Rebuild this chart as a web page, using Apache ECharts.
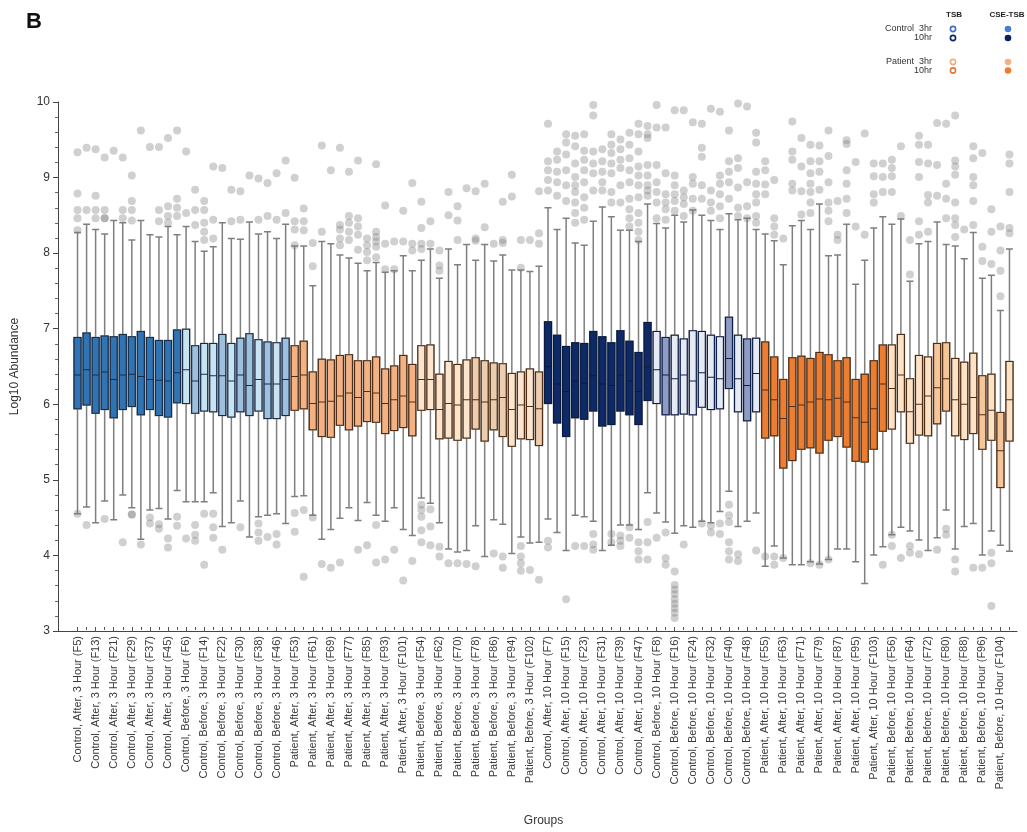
<!DOCTYPE html>
<html><head><meta charset="utf-8">
<script src="https://cdn.jsdelivr.net/npm/echarts@6/dist/echarts.min.js"></script>
<style>html,body{margin:0;padding:0;background:#fff}#c{width:1027px;height:832px}</style>
</head><body><div id="c"></div>
<script>
// ---- tick labels shown on the x axis (every other box is labelled) ----
const groupLabels = [
  "Control, After, 3 Hour (F5)","Control, After, 3 Hour (F13)","Control, After, 3 Hour (F21)","Control, After, 3 Hour (F29)","Control, After, 3 Hour (F37)","Control, After, 3 Hour (F45)",
  "Control, Before, 3 Hour (F6)","Control, Before, 3 Hour (F14)","Control, Before, 3 Hour (F22)","Control, Before, 3 Hour (F30)","Control, Before, 3 Hour (F38)","Control, Before, 3 Hour (F46)",
  "Patient, After, 3 Hour (F53)","Patient, After, 3 Hour (F61)","Patient, After, 3 Hour (F69)","Patient, After, 3 Hour (F77)","Patient, After, 3 Hour (F85)","Patient, After, 3 Hour (F93)","Patient, After, 3 Hour (F101)",
  "Patient, Before, 3 Hour (F54)","Patient, Before, 3 Hour (F62)","Patient, Before, 3 Hour (F70)","Patient, Before, 3 Hour (F78)","Patient, Before, 3 Hour (F86)","Patient, Before, 3 Hour (F94)","Patient, Before, 3 Hour (F102)",
  "Control, After, 10 Hour (F7)","Control, After, 10 Hour (F15)","Control, After, 10 Hour (F23)","Control, After, 10 Hour (F31)","Control, After, 10 Hour (F39)","Control, After, 10 Hour (F47)",
  "Control, Before, 10 Hour (F8)","Control, Before, 10 Hour (F16)","Control, Before, 10 Hour (F24)","Control, Before, 10 Hour (F32)","Control, Before, 10 Hour (F40)","Control, Before, 10 Hour (F48)",
  "Patient, After, 10 Hour (F55)","Patient, After, 10 Hour (F63)","Patient, After, 10 Hour (F71)","Patient, After, 10 Hour (F79)","Patient, After, 10 Hour (F87)","Patient, After, 10 Hour (F95)","Patient, After, 10 Hour (F103)",
  "Patient, Before, 10 Hour (F56)","Patient, Before, 10 Hour (F64)","Patient, Before, 10 Hour (F72)","Patient, Before, 10 Hour (F80)","Patient, Before, 10 Hour (F88)","Patient, Before, 10 Hour (F96)","Patient, Before, 10 Hour (F104)"
];
// each labelled box is followed by an unlabelled companion box
const categories = [];
groupLabels.forEach(function (l) {
  categories.push(l);
  categories.push(l.replace(/\(F(\d+)\)/, function (m, n) { return '(F' + (Number(n) - 4) + ')'; }));
});

const yTicks = [3, 4, 5, 6, 7, 8, 9, 10];

// ---- five-number summaries (Log10 Abundance), one value per box ----
const whiskerLow = [
  4.51,4.60,4.39,4.68,4.43,4.76,4.59,4.17,4.56,4.58,4.44,4.82,
  4.67,4.67,4.67,4.79,4.34,4.39,4.68,4.20,4.47,4.49,4.51,4.38,
  4.74,4.75,4.49,4.17,4.30,4.45,4.59,4.42,4.66,4.49,4.41,4.59,4.30,4.22,
  4.72,4.65,4.39,4.04,4.00,4.02,4.35,3.94,4.43,4.37,3.98,4.20,4.12,4.13,
  4.44,4.26,4.02,4.49,4.47,4.41,4.02,4.09,4.36,4.36,4.30,4.79,
  4.52,4.40,4.25,4.35,4.33,4.41,4.39,4.54,4.81,4.34,4.41,4.52,
  3.81,4.08,3.92,3.83,3.83,3.87,3.84,3.90,4.04,4.04,3.87,3.58,3.96,4.07,
  4.23,4.33,4.28,4.16,4.02,4.19,4.56,4.04,4.34,4.38,3.96,4.28,4.09,4.01
];
const q1 = [
  5.91,5.96,5.85,5.90,5.79,5.90,5.94,5.83,5.90,5.82,5.80,5.99,
  5.98,5.85,5.88,5.87,5.82,5.80,5.87,5.82,5.88,5.78,5.78,5.82,
  5.89,5.91,5.63,5.54,5.53,5.69,5.63,5.68,5.74,5.73,5.58,5.62,5.66,5.55,
  5.89,5.90,5.51,5.52,5.49,5.52,5.64,5.48,5.63,5.54,5.41,5.51,5.50,5.42,
  5.98,5.72,5.54,5.79,5.77,5.88,5.68,5.70,5.88,5.83,5.70,6.02,
  5.98,5.83,5.83,5.84,5.83,5.93,5.90,5.91,6.18,5.87,5.75,5.87,
  5.52,5.55,5.12,5.22,5.37,5.39,5.32,5.49,5.54,5.40,5.21,5.20,5.37,5.61,
  5.64,5.87,5.45,5.56,5.55,5.71,5.88,5.55,5.50,5.58,5.37,5.49,4.86,5.48
];
const median = [
  6.36,6.43,6.36,6.40,6.30,6.36,6.37,6.34,6.30,6.29,6.28,6.39,
  6.43,6.28,6.37,6.35,6.35,6.28,6.36,6.22,6.30,6.24,6.24,6.30,
  6.34,6.36,5.98,6.00,6.01,6.08,6.12,6.06,6.14,6.12,5.98,6.03,6.08,6.00,
  6.30,6.30,5.90,5.98,5.96,6.03,6.03,6.00,6.03,6.06,5.90,5.96,5.94,5.91,
  6.47,6.24,6.14,6.28,6.25,6.35,6.24,6.22,6.36,6.28,6.14,6.47,
  6.43,6.36,6.31,6.36,6.28,6.39,6.33,6.31,6.58,6.31,6.22,6.38,
  6.16,6.03,5.78,5.94,5.96,6.00,6.04,6.03,6.05,6.00,5.79,5.73,5.91,6.24,
  6.18,6.36,5.87,5.97,6.08,6.19,6.31,6.03,5.97,6.06,5.83,5.89,5.35,6.03
];
const q3 = [
  6.86,6.92,6.86,6.88,6.87,6.90,6.87,6.94,6.86,6.82,6.82,6.96,
  6.97,6.75,6.78,6.78,6.90,6.78,6.85,6.91,6.83,6.80,6.79,6.85,
  6.75,6.81,6.40,6.57,6.56,6.62,6.63,6.55,6.55,6.60,6.44,6.48,6.62,6.50,
  6.75,6.76,6.37,6.54,6.50,6.56,6.59,6.55,6.52,6.51,6.38,6.40,6.44,6.40,
  7.07,6.89,6.74,6.79,6.78,6.94,6.87,6.79,6.95,6.81,6.66,7.06,
  6.94,6.86,6.89,6.84,6.95,6.94,6.89,6.87,7.13,6.89,6.84,6.85,
  6.80,6.60,6.30,6.59,6.61,6.58,6.66,6.63,6.55,6.59,6.30,6.37,6.55,6.76,
  6.76,6.90,6.31,6.62,6.60,6.78,6.79,6.58,6.53,6.65,6.35,6.37,5.86,6.54
];
const whiskerHigh = [
  8.26,8.37,8.30,8.24,8.42,8.39,8.16,8.42,8.23,8.20,8.34,8.23,
  8.34,8.14,8.01,8.07,8.39,8.18,8.17,8.40,8.24,8.27,8.18,8.37,
  8.08,8.08,7.55,8.14,8.11,7.96,7.92,7.85,7.75,7.86,7.73,7.75,7.95,7.75,
  7.89,8.04,7.65,8.04,7.83,8.10,7.89,8.10,7.88,7.96,7.76,7.76,7.74,7.81,
  8.59,8.30,8.45,8.12,8.09,8.41,8.60,8.47,8.29,8.29,8.14,8.64,
  8.38,8.32,8.49,8.40,8.56,8.49,8.42,8.30,8.51,8.43,8.45,8.30,
  8.24,8.15,7.83,8.35,8.42,8.30,8.64,7.95,7.96,8.37,7.57,7.89,8.32,8.47,
  8.37,8.44,7.61,8.11,8.14,8.40,8.10,8.08,7.91,8.26,7.65,7.69,7.22,8.04
];
// ---- outliers per box ----
const outliers = [
  [9.33,8.78,8.56,8.45,8.29,4.51],[9.39,8.56,4.36],[9.37,8.75,8.56,8.45],[9.26,8.56,8.45,8.45,4.44],[9.35],[9.26,8.56,8.45,4.13],
  [9.02,8.68,8.56,8.42,4.50,4.50],[9.62,4.10],[9.40,4.46,4.38],[9.40,8.41,8.56,4.37,4.31],[9.52,8.61,8.48,8.39,4.18,4.06],[9.62,8.71,8.59,8.48,4.47,4.35],
  [9.34,8.52,4.18],[8.83,8.56,8.36,4.36,4.23,4.15],[8.68,8.56,8.39,8.27,8.16,4.51,3.83],[9.14,8.43,8.18,4.51,4.33,4.19],[9.12,4.03],[8.83,8.41],
  [8.81,8.43,4.33],[9.02],[8.98,8.43,4.38,4.26,4.15],[8.92,8.48,4.20],[9.05,8.43,4.24,4.10],[9.22,8.52],
  [8.99,8.41,8.30,8.09,4.52,4.27],[8.58,8.41,8.29,4.56,3.67],[8.12,7.81,4.46],[9.42,8.27,3.84],[9.09,3.79],[9.39,8.36,8.30,8.18,8.09,3.86],
  [9.07,8.48,8.39,8.27,8.16],[9.22,8.45,8.34,8.23,8.03,4.03],[8.18,8.09,8.00,7.89,4.09],[9.17,8.27,8.20,8.14,8.07,7.93,4.36,3.86],[8.62,8.11,7.77,3.90],[8.14,7.77,4.03],
  [8.55,8.14,3.62],[8.92,8.11,8.02,3.88],
  [8.67,8.32,8.11,8.04,4.63,4.56,4.47,4.29,4.13],[8.41,8.11,4.57,4.34,4.09],[8.02,7.82,7.75,4.07,3.94],[8.80,8.49,3.85],[8.61,8.42,8.16,3.85],[8.85,3.84],
  [8.81,8.18,8.15,3.81],[8.91,8.33],[8.11,3.98],[8.67,8.16,8.12,3.94,3.79],[9.03,8.74],[8.16,7.79,4.08,3.94,3.85,3.75],[8.16,3.76],[8.81,8.25,8.11,3.63],
  [9.71,9.21,9.09,8.96,8.82,4.15,4.06],[9.34,9.23,9.07,8.93,8.75],[9.57,9.46,9.30,9.09,8.89,8.68,3.37],[9.55,9.41,9.18,9.00,8.89,8.80,8.66,8.52,8.39,4.08],
  [9.57,9.35,9.23,9.09,8.93,8.73,8.59,8.43,4.08],[9.96,9.82,9.34,9.18,9.05,8.82,4.24,4.10,4.03],[9.37,9.21,9.07,8.93,8.82],[9.57,9.43,9.32,9.18,9.05,8.80,8.66,4.24,4.13],
  [9.50,9.37,9.23,9.12,8.89,8.66,4.22,4.15,4.08],[9.59,9.43,9.25,9.09,8.93,8.71,8.57,8.45,8.34,4.33,4.19],
  [9.71,9.57,9.34,9.14,9.02,8.89,8.73,8.52,8.39,8.27,8.16,4.13,4.01,3.90],[9.68,9.57,9.52,9.16,9.02,8.89,8.82,8.75,4.40,4.13,3.90],
  [9.96,9.66,9.16,8.93,8.80,8.66,8.45,4.19],[9.66,9.05,8.77,8.66,8.57,8.43,4.26,3.92,3.83],
  [9.89,9.02,8.89,8.77,8.68,8.55,3.74,3.56,3.50,3.44,3.37,3.31,3.25,3.19,3.12],[9.89,8.82,8.73,8.64,8.48,4.10],[9.73,9.00,8.91,8.71,8.55],
  [9.71,9.39,9.27,8.89,8.71,4.38],[9.91,8.82,8.66,8.55,4.35,4.26],[9.87,9.02,8.91,8.77,8.61,8.45,4.38,4.24],[9.62,9.21,9.07,8.93,8.71,4.63,4.49,4.40,4.13,4.01,3.90],
  [9.98,9.25,9.12,8.86,8.59,8.48,3.97,3.88],[9.94,8.93,8.61,8.45],[9.59,9.46,9.07,8.91,8.77,8.66,8.48,8.39,4.02],
  [9.21,9.09,8.90,8.77,3.94],[8.96,8.45,8.34,8.23,3.94,3.83],[8.18,3.92],[9.74,9.34,9.23,8.91,8.82],[9.52,9.14,8.81,8.50],[9.43,9.21,9.05,8.91,8.80,8.66,8.52,3.85],
  [9.42,9.21,9.07,8.83,3.83],[9.62,9.28,8.93,8.66,8.55,8.41,3.90],[8.68,8.23,8.16],[9.49,9.44,9.09,8.91,8.71,8.52],[9.20,8.34],[9.58,8.23],[9.18,9.01,8.77,8.66],[9.18,9.00,8.80,3.83],
  [9.23,9.12,9.01,8.80,4.23,4.08],[9.41,8.48,3.92],[8.16,7.70,4.08,3.99],[9.55,9.43,9.20,9.00,8.41,8.23,3.97],[9.43,9.18,8.76,8.66,8.27],[9.72,9.16,8.75,4.03],
  [9.71,8.91,8.71,8.45,4.31,4.23],[9.82,9.22,9.14,9.03,8.66,8.45,8.36,8.20,3.90,3.74],[8.30],[9.41,9.25,9.00,8.89,8.68,8.36,3.79],[9.32,8.07,7.88,3.79],
  [8.57,8.27,7.84,3.99,3.85,3.28],[8.34,8.02,7.75,7.41],[9.30,9.18,8.80,8.32,8.25]
];

// ---- styling (kept apart from the data) ----
const toneCodes =
  'aaaaaaaaaaaa' + 'bcbbcbccbcbc' + 'dddddddddddddd' + 'eeeeeeffffeeef' +
  'gggggggggggg' + 'hihhhhhhihih' + 'jjjjjjjjjjjjjj' + 'kkkkkllkkklklk';
const toneFill = {
  a: '#2f74b5', b: '#c6e4f3', c: '#9cc0dd', d: '#f4b183', e: '#fde5cd', f: '#eccdae',
  g: '#0e2a66', h: '#e6eaf4', i: '#8e9cc3', j: '#ed7d31', k: '#fde2c5', l: '#f6c699'
};
const toneBorder = {
  a: '#1b2c47', b: '#1b2c47', c: '#1b2c47', d: '#4d2e17', e: '#4d2e17', f: '#4d2e17',
  g: '#0a1a3f', h: '#0e1f4a', i: '#0e1f4a', j: '#4d2e17', k: '#4d2e17', l: '#4d2e17'
};

const whiskerData = categories.map(function (c, i) {
  return [whiskerLow[i], q1[i], median[i], q3[i], whiskerHigh[i]];
});
const boxData = categories.map(function (c, i) {
  const t = toneCodes[i];
  return {
    value: [q1[i], q1[i], median[i], q3[i], q3[i]],
    itemStyle: { color: toneFill[t], borderColor: toneBorder[t] }
  };
});
const outlierData = [];
outliers.forEach(function (list, i) { list.forEach(function (v) { outlierData.push([i, v]); }); });

const FONT = 'Liberation Sans, Arial, sans-serif';
const chart = echarts.init(document.getElementById('c'), null, { renderer: 'canvas' });

const legendRows = [
  { label: 'Control  3hr', y: 29, tsb: '#3e6fc2', cse: '#4a7fd0' },
  { label: '10hr', y: 38, tsb: '#0d2a5e', cse: '#0a1f5c' },
  { label: 'Patient  3hr', y: 62, tsb: '#f2ad7e', cse: '#f4b183' },
  { label: '10hr', y: 70.5, tsb: '#e07a3a', cse: '#ed7d31' }
];
const legendGraphics = [
  { type: 'text', x: 954, y: 15, style: { text: 'TSB', font: 'bold 8px ' + FONT, fill: '#222', align: 'center', verticalAlign: 'middle', textAlign: 'center', textVerticalAlign: 'middle' } },
  { type: 'text', x: 1007, y: 15, style: { text: 'CSE-TSB', font: 'bold 8px ' + FONT, fill: '#222', align: 'center', verticalAlign: 'middle', textAlign: 'center', textVerticalAlign: 'middle' } }
];
legendRows.forEach(function (r) {
  legendGraphics.push({ type: 'text', x: 932, y: r.y, style: { text: r.label, font: '9px ' + FONT, fill: '#333', align: 'right', verticalAlign: 'middle', textAlign: 'right', textVerticalAlign: 'middle' } });
  legendGraphics.push({ type: 'circle', shape: { cx: 953, cy: r.y, r: 2.6 }, style: { fill: '#fff', stroke: r.tsb, lineWidth: 1.6 } });
  legendGraphics.push({ type: 'circle', shape: { cx: 1008, cy: r.y, r: 3.3 }, style: { fill: r.cse } });
});

chart.setOption({
  animation: false,
  backgroundColor: '#ffffff',
  title: { text: 'B', left: 21, top: 6, textStyle: { fontFamily: FONT, fontSize: 22, fontWeight: 'bold', color: '#111' } },
  graphic: legendGraphics,
  grid: [
    { left: 73, right: 13, top: 102, bottom: 201, containLabel: false },
    { left: 58, right: 10, top: 102, bottom: 201, containLabel: false }
  ],
  xAxis: [
    {
      type: 'category', gridIndex: 0, position: 'bottom', data: categories, boundaryGap: true,
      name: 'Groups', nameLocation: 'middle', nameGap: 188,
      nameTextStyle: { fontFamily: FONT, fontSize: 12, color: '#333' },
      axisLine: { show: false },
      axisTick: { show: true, interval: 0, alignWithLabel: true, length: 3, lineStyle: { color: '#555' } },
      axisLabel: { interval: 1, rotate: 90, margin: 9, fontFamily: FONT, fontSize: 11, color: '#3a3a3a' },
      splitLine: { show: false }
    },
    {
      type: 'category', gridIndex: 0, position: 'bottom', data: categories, boundaryGap: true,
      axisLine: { show: false },
      axisTick: { show: true, interval: 1, alignWithLabel: true, length: 5, lineStyle: { color: '#555' } },
      axisLabel: { show: false }, splitLine: { show: false }
    },
    {
      type: 'value', gridIndex: 1, position: 'bottom', min: 0, max: 1,
      axisLine: { show: true, lineStyle: { color: '#444', width: 1 } },
      axisTick: { show: false }, axisLabel: { show: false }, splitLine: { show: false }
    }
  ],
  yAxis: [
    { type: 'value', gridIndex: 0, min: 3, max: 10, interval: 1, show: false },
    {
      type: 'value', gridIndex: 1, position: 'left', min: 3, max: 10, interval: 1,
      name: 'Log10 Abundance', nameLocation: 'middle', nameGap: 37,
      nameTextStyle: { fontFamily: FONT, fontSize: 12, color: '#333' },
      axisLine: { show: true, lineStyle: { color: '#444', width: 1 } },
      axisTick: { show: true, length: 5, lineStyle: { color: '#444' } },
      minorTick: { show: true, splitNumber: 5, length: 3, lineStyle: { color: '#666' } },
      axisLabel: { fontFamily: FONT, fontSize: 12, color: '#333', margin: 8,
        formatter: function (v) { return yTicks.indexOf(v) >= 0 ? String(v) : ''; } },
      splitLine: { show: false }
    }
  ],
  series: [
    {
      name: 'whiskers', type: 'boxplot', xAxisIndex: 0, yAxisIndex: 0,
      boxWidth: [7, 7], data: whiskerData, z: 2,
      itemStyle: { color: '#ffffff', borderColor: '#7f7f7f', borderWidth: 1.5 },
      emphasis: { disabled: true }
    },
    {
      name: 'boxes', type: 'boxplot', xAxisIndex: 1, yAxisIndex: 0,
      boxWidth: [7, 7], data: boxData, z: 3,
      itemStyle: { borderWidth: 1.2 },
      emphasis: { disabled: true }
    },
    {
      name: 'outliers', type: 'scatter', xAxisIndex: 0, yAxisIndex: 0,
      data: outlierData, symbol: 'circle', symbolSize: 8, z: 4,
      itemStyle: { color: 'rgba(125,125,125,0.45)' },
      emphasis: { disabled: true }
    }
  ]
});
</script></body></html>
